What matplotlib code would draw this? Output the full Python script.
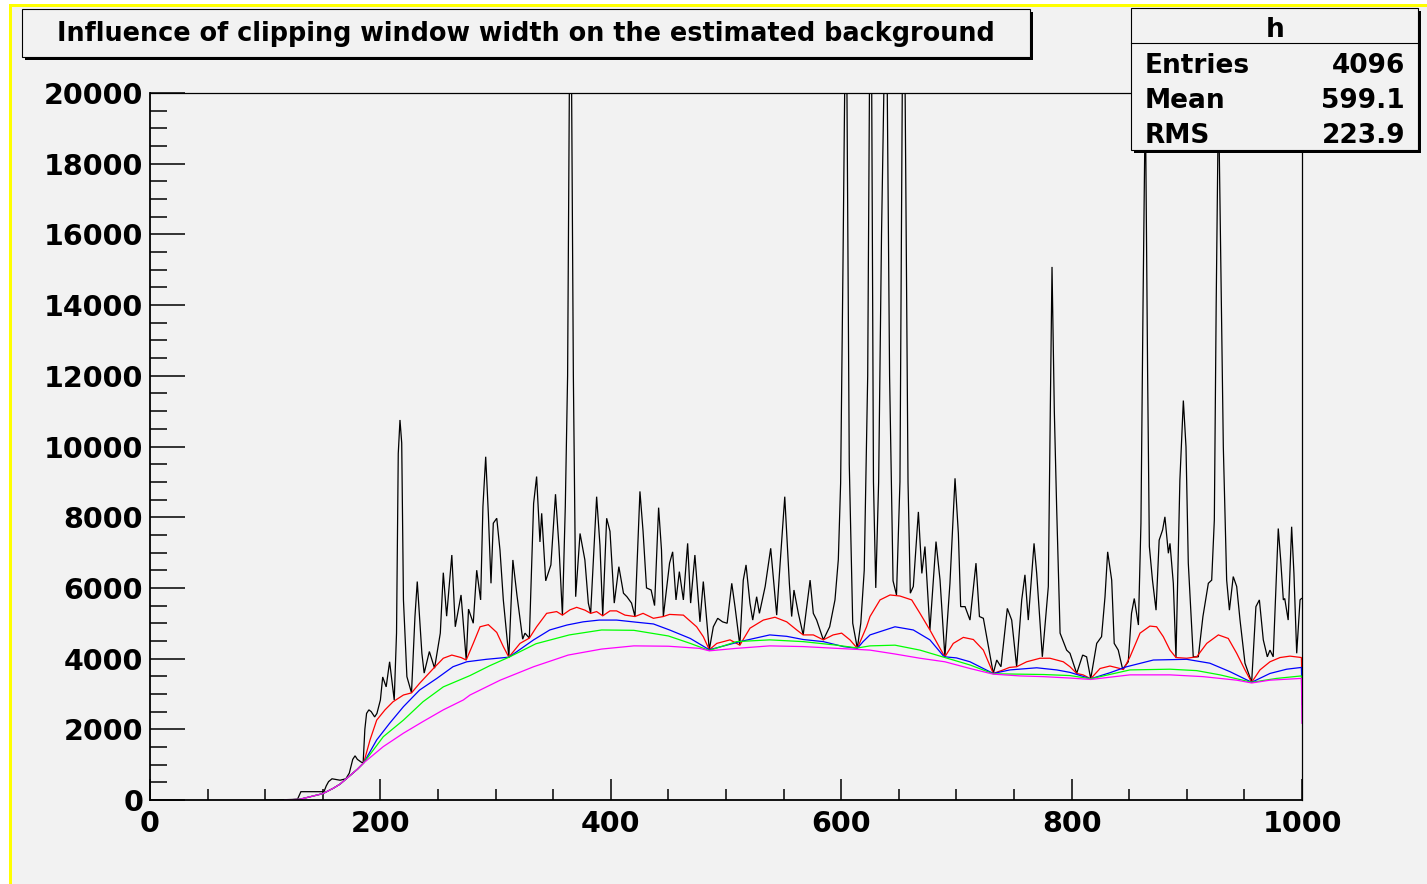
import matplotlib
matplotlib.use('Agg')
import matplotlib.pyplot as plt
from matplotlib.patches import Rectangle
from matplotlib.lines import Line2D
from matplotlib.ticker import MultipleLocator

# ---------------- data ----------------
title = "Influence of clipping window width on the estimated background"
stats_name = "h"
stats_labels = ["Entries", "Mean", "RMS"]
stats_values = ["4096", "599.1", "223.9"]

x_ticks = [0, 200, 400, 600, 800, 1000]
y_ticks = [0, 2000, 4000, 6000, 8000, 10000, 12000, 14000, 16000, 18000, 20000]

spectrum = [
    (100, 0), (108, 0), (128, 20), (131, 235), (151, 235), (153, 400), (155, 520), (158, 600),
    (165, 560), (170, 600), (173, 760), (176, 1150), (178, 1250), (180, 1150), (183, 1080),
    (185, 1040), (186.5, 2000), (188, 2450), (190, 2550), (192, 2500), (195, 2350), (197, 2450),
    (200, 2830), (202, 3480), (205, 3200), (208, 3910), (212, 2830), (214, 4720), (215.5, 9800),
    (217, 10750), (218.5, 10100), (220, 5660), (223, 3490), (227, 3030), (230, 5190), (232, 6180),
    (236, 4150), (238, 3590), (242.5, 4200), (247, 3730), (252, 4720), (254.6, 6430), (257.5, 5200),
    (262, 6930), (265, 4900), (270, 5800), (274.5, 3960), (276.5, 5400), (280.6, 5000),
    (283.6, 6500), (287, 5660), (289, 8300), (291.4, 9710), (293.7, 8100), (296, 6130), (298, 7830),
    (301, 7970), (303.8, 7070), (306.7, 5660), (311.5, 4040), (315, 6790), (318.5, 5800),
    (323.5, 4550), (325.5, 4720), (329.3, 4580), (333, 8390), (335.6, 9150), (338.5, 7300),
    (340, 8110), (343.5, 6200), (348, 6650), (352, 8650), (355, 7170), (358, 5230), (360.5, 8300),
    (362.5, 12000), (364, 20000), (366, 20000), (367.5, 12000), (369.5, 5750), (373.3, 7540),
    (377.5, 6790), (380.5, 5570), (382.5, 5280), (387.7, 8580), (390.6, 7200), (393, 5210),
    (396.4, 7970), (399.3, 7600), (403, 5570), (407, 6600), (411, 5850), (414, 5750), (418, 5570),
    (421, 5190), (425.3, 8730), (428, 7600), (431, 6000), (435, 5940), (438, 5500), (441.5, 8270),
    (444, 7070), (445.6, 5190), (451, 6700), (453.7, 7020), (456.6, 5660), (459.5, 6460),
    (463, 5660), (466.7, 7260), (469.3, 5570), (473, 6930), (477.4, 5040), (480.3, 6180),
    (485.5, 4250), (489, 4900), (492.8, 5140), (497, 5040), (501, 5000), (505, 6130), (507.8, 5470),
    (512, 4380), (515, 6220), (517.4, 6650), (520.8, 5570), (523.2, 5090), (526.6, 5750),
    (529, 5280), (534, 6040), (538.8, 7120), (544, 5230), (547, 6700), (551, 8580), (555, 6130),
    (557, 5190), (559, 5940), (562.8, 5280), (567, 4670), (573, 6220), (575.8, 5280), (578.7, 5090),
    (584.5, 4530), (590, 4900), (594.6, 5660), (597.5, 6800), (599.5, 8960), (601.5, 15000),
    (603, 20000), (605, 20000), (607, 9500), (610, 5000), (614, 4290), (617, 5000), (620, 6500),
    (623, 12000), (624.5, 20000), (626.5, 20000), (628, 9000), (630, 6000), (632.5, 9000),
    (635, 16000), (637, 20000), (640, 20000), (642, 12000), (645, 6200), (648, 5800), (651, 9000),
    (653, 20000), (655.5, 20000), (658, 9000), (660, 5850), (662.6, 6040), (667, 8150), (670, 6410),
    (672.7, 7170), (677, 4810), (682.3, 7310), (685.8, 6220), (690, 4050), (694.4, 6130),
    (698.8, 9100), (701.7, 7540), (703.7, 5470), (707.5, 5470), (711.8, 5090), (717, 6700),
    (720, 5190), (723.4, 5140), (726.8, 4530), (732, 3580), (735, 3960), (738.7, 3770),
    (744.2, 5420), (748, 5090), (752.3, 3770), (756.7, 5660), (759.5, 6370), (762.4, 5090),
    (767.4, 7260), (769.7, 6410), (774.6, 4050), (779.8, 6040), (781.5, 11000), (783, 15080),
    (785, 11000), (787, 8300), (790, 4720), (795.7, 4240), (798.6, 4150), (804.4, 3580),
    (809.6, 4100), (813, 4050), (816.6, 3430), (821.8, 4430), (826, 4620), (829, 5750),
    (831.3, 7020), (834.8, 6220), (837, 4430), (840.5, 4240), (844.3, 3700), (849.2, 3910),
    (852, 5280), (854.4, 5700), (858, 4950), (860.2, 7830), (862, 14000), (864, 20000),
    (866, 12000), (867.5, 7170), (870.2, 6220), (873.3, 5370), (876, 7350), (879, 7640),
    (881, 8010), (884, 6980), (885.4, 7260), (888.3, 6130), (890.6, 4030), (894, 9050),
    (897, 11300), (899.3, 9990), (901.3, 6700), (905.6, 4050), (910, 4050), (914, 5190),
    (918.7, 6130), (921.6, 6220), (923.9, 7920), (925.5, 14000), (927.5, 20000), (930, 14000),
    (931.7, 9990), (934.6, 6220), (937, 5370), (940.3, 6320), (943.3, 6040), (946.2, 5090),
    (950.5, 3870), (956.3, 3330), (960, 5470), (963, 5660), (966.4, 4530), (969.9, 4050),
    (972.2, 4240), (975, 4050), (979.4, 7680), (981.5, 6790), (983.8, 5660), (985, 5700),
    (988, 5090), (991, 7730), (993, 6410), (995.4, 4150), (998.3, 5660), (999.5, 5700),
]

bg_start = [(117, 0), (130, 20), (145, 140), (150, 180), (159, 330), (165, 450),
            (173.6, 690), (180, 870), (185.5, 1050)]

bg_red = bg_start + [
    (191, 1700), (196.8, 2260), (204, 2550), (211, 2780), (220, 2970), (227, 3030), (234, 3300),
    (246, 3720), (254.6, 4010), (262, 4100), (270, 4030), (274.5, 3960), (280.6, 4430),
    (286.5, 4900), (293.7, 4960), (301, 4740), (306.7, 4340), (311.5, 4040), (321.2, 4430),
    (329.3, 4580), (335.6, 4900), (344.3, 5280), (353, 5330), (358, 5230), (364.6, 5380),
    (370.4, 5450), (377.6, 5370), (382.5, 5280), (387.7, 5330), (393, 5210), (399.3, 5350),
    (405, 5350), (412.3, 5230), (421, 5190), (428, 5280), (437, 5140), (445.6, 5190), (451, 5250),
    (463, 5230), (474.5, 4900), (480.3, 4620), (485.5, 4250), (492, 4430), (503.5, 4530),
    (512, 4380), (520.8, 4860), (532.4, 5090), (542.5, 5170), (552.7, 5040), (561.4, 4810),
    (567, 4670), (575.8, 4670), (584.5, 4530), (593, 4670), (600.4, 4720), (607.6, 4530),
    (614, 4290), (622, 4900), (625, 5190), (633.7, 5660), (642.4, 5800), (651, 5770),
    (661.2, 5660), (668.4, 5280), (677, 4810), (685.8, 4290), (690, 4050), (697.3, 4430),
    (706, 4600), (714.7, 4540), (723.4, 4240), (732, 3580), (740.7, 3680), (746, 3750),
    (752.3, 3770), (761, 3910), (772.6, 4010), (781.2, 4010), (792.8, 3910), (798.6, 3770),
    (804.4, 3580), (810, 3540), (816.6, 3430), (824.7, 3720), (833.3, 3790), (842, 3720),
    (845, 3690), (850.7, 4050), (859.4, 4720), (868, 4920), (873.8, 4900), (879.6, 4620),
    (885.4, 4240), (890.6, 4030), (899.9, 4010), (908.6, 4050), (917.3, 4430), (927.4, 4670),
    (936, 4570), (943.3, 4150), (950.5, 3680), (956.3, 3330), (963.5, 3680), (972.2, 3910),
    (980.9, 4030), (989.6, 4070), (999.5, 4030), (1000, 2970),
]

bg_blue = bg_start + [
    (196.8, 1700), (208, 2170), (220, 2640), (234, 3110), (249, 3440), (263, 3770), (275, 3910),
    (292, 3980), (311.6, 4040), (333, 4530), (347, 4810), (362, 4950), (376, 5040), (390, 5090),
    (405, 5090), (422, 5030), (437, 4980), (451, 4810), (469, 4570), (485.5, 4250),
    (500.6, 4380), (512, 4480), (538, 4670), (552.7, 4630), (567, 4540), (584.5, 4480),
    (601.8, 4340), (614, 4290), (619, 4480), (625, 4670), (646.7, 4900), (662.6, 4810),
    (677, 4530), (688.6, 4080), (690, 4050), (700, 4020), (711.8, 3910), (723.4, 3720),
    (732, 3580), (746.5, 3680), (769.7, 3740), (787, 3680), (798.6, 3610), (816.6, 3430),
    (833.3, 3600), (847.8, 3770), (871, 3960), (899.9, 3980), (920, 3870), (937.5, 3630),
    (956.3, 3330), (972.2, 3580), (986.7, 3700), (999.5, 3750), (1000, 2850),
]

bg_green = bg_start + [
    (202.5, 1790), (220, 2260), (237, 2780), (254.6, 3200), (277.8, 3520), (295, 3800),
    (311.6, 4040), (335, 4420), (364, 4670), (392, 4810), (420, 4800), (450, 4640), (469, 4430),
    (485.5, 4230), (509, 4480), (538, 4530), (567, 4480), (596, 4380), (614, 4300), (625, 4360),
    (646.7, 4380), (668.4, 4240), (690, 4030), (711.8, 3820), (732, 3570), (755, 3560),
    (775.4, 3550), (798.6, 3520), (816.6, 3430), (850.7, 3680), (885.4, 3700), (908.6, 3660),
    (928.8, 3540), (956.3, 3330), (978, 3440), (999.5, 3510), (1000, 2700),
]

bg_magenta = bg_start + [
    (202.5, 1510), (220, 1890), (237, 2220), (254.6, 2550), (272, 2830), (277.8, 2970),
    (304, 3390), (333, 3770), (363, 4100), (392, 4270), (420, 4360), (450, 4350), (477, 4290),
    (485.5, 4220), (509, 4290), (538, 4360), (567, 4340), (596, 4290), (614, 4260), (625, 4240),
    (646.7, 4130), (668.4, 4010), (690, 3910), (711.8, 3720), (732, 3560), (755, 3510),
    (775.4, 3490), (798.6, 3450), (816.6, 3410), (850.7, 3540), (885.4, 3540), (914, 3490),
    (943.3, 3390), (956.3, 3310), (972.2, 3390), (999.5, 3440), (1000, 2170),
]

# ---------------- figure ----------------
W, H = 1427, 884
fig = plt.figure(figsize=(W / 100, H / 100), dpi=100)
fig.patch.set_facecolor('white')
BG = '#f2f2f2'
FONT = 'DejaVu Sans'


def fx(px):
    return px / W


def fy(py):
    return 1 - py / H


# canvas fill + yellow border (left and top)
fig.add_artist(Rectangle((fx(9), 0), 1 - fx(9), fy(5), transform=fig.transFigure,
                         facecolor=BG, edgecolor='none', zorder=0))
fig.add_artist(Line2D([fx(10), fx(10)], [0, fy(5)], transform=fig.transFigure,
                      color='#ffff00', lw=3 * 0.72, zorder=1))
fig.add_artist(Line2D([fx(10), 1], [fy(5), fy(5)], transform=fig.transFigure,
                      color='#ffff00', lw=3 * 0.72, zorder=1))

ax = fig.add_axes([fx(150), fy(800), (1302 - 150) / W, (800 - 93) / H])
ax.set_facecolor('none')
ax.set_xlim(0, 1000)
ax.set_ylim(0, 20000)


def plot_series(pts, color, lw):
    xs = [p[0] for p in pts]
    ys = [p[1] for p in pts]
    ax.plot(xs, ys, color=color, lw=lw, solid_joinstyle='miter')


plot_series(spectrum, 'black', 0.9)
plot_series(bg_red, '#ff0000', 0.9)
plot_series(bg_blue, '#0000ff', 0.9)
plot_series(bg_green, '#00ff00', 0.9)
plot_series(bg_magenta, '#ff00ff', 0.9)

for side in ['left', 'bottom']:
    ax.spines[side].set_linewidth(1.3)
for side in ['top', 'right']:
    ax.spines[side].set_linewidth(0.9)

ax.set_xticks(x_ticks)
ax.set_yticks(y_ticks)
ax.xaxis.set_minor_locator(MultipleLocator(50))
ax.yaxis.set_minor_locator(MultipleLocator(500))
ax.set_xticklabels([str(v) for v in x_ticks])
ax.set_yticklabels([str(v) for v in y_ticks])
ax.tick_params(axis='both', which='both', direction='in', top=False, right=False)
ax.tick_params(axis='y', which='major', length=25, width=1.1, pad=5)
ax.tick_params(axis='y', which='minor', length=12, width=1.1)
ax.tick_params(axis='x', which='major', length=15, width=1.1, pad=7)
ax.tick_params(axis='x', which='minor', length=8, width=1.1)
for lab in ax.get_xticklabels() + ax.get_yticklabels():
    lab.set_fontfamily(FONT)
    lab.set_fontweight('bold')
    lab.set_fontsize(20.5)


def box(x0, y0, x1, y1, shadow=3):
    fig.add_artist(Rectangle((fx(x0 + shadow), fy(y1 + shadow)), (x1 - x0) / W, (y1 - y0) / H,
                             transform=fig.transFigure, facecolor='black', edgecolor='none',
                             zorder=5))
    fig.add_artist(Rectangle((fx(x0), fy(y1)), (x1 - x0) / W, (y1 - y0) / H,
                             transform=fig.transFigure, facecolor=BG, edgecolor='black',
                             lw=0.8, zorder=6))


# title box
box(22, 9, 1030, 57)
fig.text(fx(526), fy(41), title, ha='center', va='baseline', fontsize=18.4,
         fontweight='bold', family=FONT, zorder=7)

# stats box
box(1131, 8, 1418, 150)
fig.add_artist(Line2D([fx(1131), fx(1418)], [fy(43), fy(43)], transform=fig.transFigure,
                      color='black', lw=0.8, zorder=7))
fig.text(fx(1275), fy(37), stats_name, ha='center', va='baseline', fontsize=19,
         fontweight='bold', family=FONT, zorder=7)
for lab, val, base in zip(stats_labels, stats_values, [73, 108, 143]):
    fig.text(fx(1145), fy(base), lab, ha='left', va='baseline', fontsize=19,
             fontweight='bold', family=FONT, zorder=7)
    fig.text(fx(1405), fy(base), val, ha='right', va='baseline', fontsize=19,
             fontweight='bold', family=FONT, zorder=7)

fig.savefig('out.png', dpi=100, facecolor=fig.get_facecolor())
